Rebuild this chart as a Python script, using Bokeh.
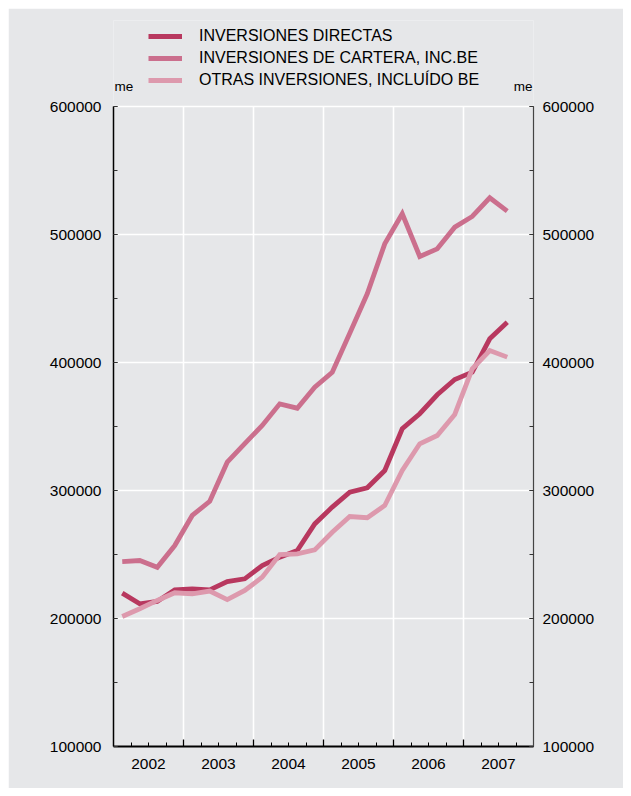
from bokeh.plotting import figure
from bokeh.models import (FixedTicker, SingleIntervalTicker, LinearAxis, Legend, LegendItem,
                          Range1d, Label)
from bokeh.embed import file_html
from bokeh.resources import INLINE

# ---- data (millones de euros, trimestral) ----
anios = [2002, 2003, 2004, 2005, 2006, 2007]
trimestres_por_anio = 4
n_puntos = 23  # 2002-T1 .. 2007-T3

directas = [219800, 211500, 213300, 222400, 223200, 222400, 228900, 231000,
            241400, 247900, 253100, 273900, 287000, 298700, 302100, 315600,
            348200, 360000, 374800, 386700, 392400, 418500, 431500]
cartera = [244500, 245300, 240000, 257000, 280500, 291600, 322100, 336700,
           350800, 367700, 364300, 380700, 392400, 422900, 453700, 492700,
           516200, 482800, 488800, 505700, 514100, 528700, 518200]
otras = [201600, 207600, 214100, 220100, 219300, 221400, 214800, 221900,
         232300, 250000, 250500, 253600, 267400, 279700, 278700, 288300,
         315600, 336500, 343000, 359400, 395100, 409400, 404200]

series_nombres = ["INVERSIONES DIRECTAS", "INVERSIONES DE CARTERA, INC.BE",
                  "OTRAS INVERSIONES, INCLUÍDO BE"]
y_ticks = [100000, 200000, 300000, 400000, 500000, 600000]
unidad = "me"

# ---- derived positions ----
x = [anios[0] + (i + 0.5) / trimestres_por_anio for i in range(n_puntos)]
x_min, x_max = anios[0], anios[-1] + 1
y_min, y_max = y_ticks[0], y_ticks[-1]
limites_anio = list(range(x_min, x_max + 1))
medios_anio = [a + 0.5 for a in anios]
limites_trim = [x_min + i / trimestres_por_anio for i in range((x_max - x_min) * trimestres_por_anio + 1)]

# layout (pixels)
AX_H = 640            # pixel height of the 100000..600000 axis
HEAD = 86             # extra frame space above the axis for legend and units
px = (y_max - y_min) / AX_H
y_top = y_max + HEAD * px

colores = ["#b8385f", "#cb6f8d", "#dd99ad"]
BG = "#e6e7e9"
FONT = "Liberation Sans"
FS = "15.5px"
TXT = "#000000"

p = figure(width=615, height=780, output_backend="svg", toolbar_location=None,
           x_range=Range1d(x_min, x_max), y_range=Range1d(y_min, y_top),
           background_fill_color=BG, border_fill_color=BG, outline_line_color=None,
           min_border_left=105, min_border_right=90, min_border_top=12, min_border_bottom=42,
           x_axis_type=None, y_axis_type=None)
p.margin = (8, 8, 8, 8)

p.xgrid.visible = False
p.ygrid.visible = False

# bottom axis
xaxis = LinearAxis(ticker=FixedTicker(ticks=medios_anio, minor_ticks=limites_trim),
                   major_label_overrides={m: str(a) for m, a in zip(medios_anio, anios)})
xaxis.axis_line_color = "black"
xaxis.axis_line_width = 2.2
xaxis.major_tick_line_color = None
xaxis.minor_tick_in = 4
xaxis.minor_tick_out = 0
xaxis.minor_tick_line_color = "black"
xaxis.minor_tick_line_width = 1
xaxis.major_label_text_font = FONT
xaxis.major_label_text_font_size = FS
xaxis.major_label_text_color = TXT
xaxis.major_label_standoff = 6
p.add_layout(xaxis, "below")

# left axis
yl = LinearAxis(ticker=SingleIntervalTicker(interval=100000, num_minor_ticks=2),
                bounds=(y_min, y_max))
yl.axis_line_color = "black"
yl.axis_line_width = 1.5
yl.major_tick_in = 4
yl.major_tick_out = 0
yl.minor_tick_in = 4
yl.minor_tick_out = 0
yl.major_tick_line_color = "#333333"
yl.minor_tick_line_color = "#333333"
yl.major_label_text_font = FONT
yl.major_label_text_font_size = FS
yl.major_label_text_color = TXT
yl.major_label_standoff = 12
yl.formatter.use_scientific = False
p.add_layout(yl, "left")

# right axis
yr = LinearAxis(ticker=SingleIntervalTicker(interval=100000, num_minor_ticks=2),
                bounds=(y_min, y_max))
yr.axis_line_color = "#444444"
yr.axis_line_width = 1.2
yr.major_tick_in = 4
yr.major_tick_out = 0
yr.minor_tick_in = 4
yr.minor_tick_out = 0
yr.major_tick_line_color = "#333333"
yr.minor_tick_line_color = "#333333"
yr.major_label_text_font = FONT
yr.major_label_text_font_size = FS
yr.major_label_text_color = TXT
yr.major_label_standoff = 9
yr.formatter.use_scientific = False
p.add_layout(yr, "right")

# white grid lines
for yv in y_ticks[1:]:
    p.segment(x0=[x_min], y0=[yv], x1=[x_max], y1=[yv], line_color="white", line_width=1.6)
for xv in limites_anio[1:-1]:
    p.segment(x0=[xv], y0=[y_min], x1=[xv], y1=[y_max], line_color="white", line_width=1.6)

# year-boundary ticks on bottom axis (longer)
tick_len = 7 * px
p.segment(x0=limites_anio[1:-1], y0=[y_min] * (len(limites_anio) - 2),
          x1=limites_anio[1:-1], y1=[y_min + tick_len] * (len(limites_anio) - 2),
          line_color="black", line_width=1.3)

# series
renderers = []
for vals, col in zip([directas, cartera, otras], colores):
    r = p.line(x, vals, line_color=col, line_width=4.8, line_join="miter")
    renderers.append(r)

legend = Legend(items=[LegendItem(label=n, renderers=[r]) for n, r in zip(series_nombres, renderers)],
                location=(35, AX_H + 15), orientation="vertical",
                background_fill_alpha=0, border_line_color=None,
                padding=0, margin=0, spacing=0,
                glyph_width=34, glyph_height=22, label_height=22, label_standoff=17,
                label_text_font=FONT, label_text_font_size="16px", label_text_color=TXT)
p.add_layout(legend, "center")

# unit labels above both axes
for xv, align, off in [(x_min, "left", 1), (x_max, "right", -1)]:
    p.add_layout(Label(x=xv, y=y_max + 20 * px, text=unidad, x_offset=off,
                       text_align=align, text_baseline="middle", text_font=FONT,
                       text_font_size="13.5px", text_color=TXT))

open("out.html", "w").write(file_html(p, INLINE))
